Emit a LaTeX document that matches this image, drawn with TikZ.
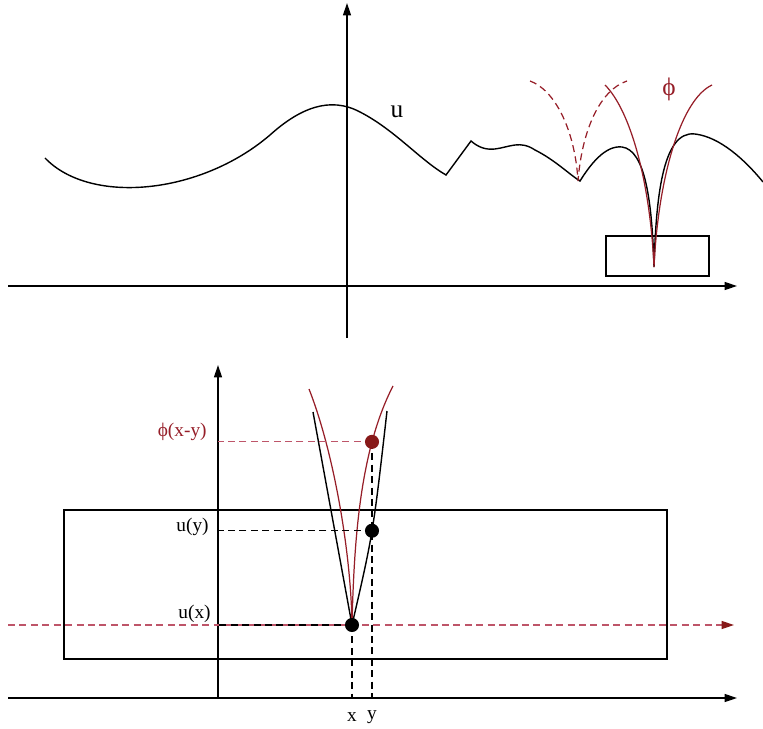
\documentclass[tikz,border=0pt]{standalone}
\usepackage{fontspec}
\setmainfont{Liberation Serif}
\usetikzlibrary{arrows.meta,intersections}
\definecolor{phired}{RGB}{150,30,40}
\definecolor{dashred}{RGB}{190,85,105}
\definecolor{dotred}{RGB}{135,25,25}
\begin{document}
\begin{tikzpicture}[x=0.02cm, y=-0.02cm, line width=0.7pt, axis/.style={-{Triangle[length=7pt,width=4.5pt]}}, curve/.style={line width=0.8pt}, phi/.style={phired, line width=0.7pt}, guide/.style={dash pattern=on 4pt off 2.5pt}, redguide/.style={guide, dashred}, dot/.style={circle, fill=black, inner sep=0pt, minimum size=8pt}, rdot/.style={dot, fill=dotred}, lbl/.style={inner sep=1pt, font=\fontsize{11}{13}\selectfont}]
\useasboundingbox (0,0) rectangle (763,729);
% upper panel
\coordinate (ax1) at (8,286);
\coordinate (ax1e) at (737,286);
\coordinate (ay1) at (347,338);
\coordinate (ay1e) at (347,3);
\draw[axis] (ax1) -- (ax1e);
\draw[axis] (ay1) -- (ay1e);
\draw (606,236) rectangle (709,276);
\draw[curve] (45,158) .. controls (90,205) and (200,195) .. (270,135) .. controls (300,108) and (330,96) .. (360,112) .. controls (395,130) and (420,160) .. (446,175) -- (471,141) .. controls (478,147) and (485,150) .. (495,149) .. controls (510,147) and (520,140) .. (535,150) .. controls (555,160) and (570,175) .. (580,181) .. controls (590,165) and (605,145) .. (622,147) .. controls (645,150) and (652,200) .. (654,267) .. controls (656,200) and (662,130) .. (695,134) .. controls (720,137) and (745,160) .. (763,182);
\draw[phi, guide] (530,81) .. controls (555,90) and (575,130) .. (578,181) .. controls (582,130) and (600,90) .. (627,81);
\draw[phi] (605,85) .. controls (630,110) and (650,180) .. (654,267) .. controls (658,180) and (680,100) .. (712,85);
\node[lbl, font=\Large] (ulbl) at (397,112) {u};
\node[lbl, font=\Large, text=phired] (philbl) at (669,89) {ϕ};
% lower panel
\coordinate (ax2) at (8,698);
\coordinate (ax2e) at (737,698);
\coordinate (ay2) at (218,698);
\coordinate (ay2e) at (218,365);
\coordinate (rl) at (8,625);
\coordinate (rle) at (734,625);
\coordinate (ux) at (352,625);
\draw[axis] (ax2) -- (ax2e);
\draw[axis] (ay2) -- (ay2e);
\draw (64,510) rectangle (667,659);
\draw[redguide, -{Triangle[length=7pt,width=4.5pt,color=dotred,fill=dotred]}] (rl) -- (rle);
\draw[curve] (313,412) -- (ux);
\draw[curve, name path=blkR] (ux) .. controls (373,534) .. (387,411);
\draw[phi] (ux) .. controls (351,550) and (333,450) .. (309,389);
\draw[phi, name path=redR] (ux) .. controls (354,540) and (360,450) .. (393,386);
\path[name path=vy] (372,380) -- (372,700);
\path[name intersections={of=vy and redR, by=pxy}];
\path[name intersections={of=vy and blkR, by=uyc}];
\draw[redguide] (pxy) -- (pxy -| ay2);
\draw[guide] (uyc) -- (uyc -| ay2);
\draw[guide] (ux) -- (ux -| ay2);
\draw[guide] (pxy) -- (pxy |- ax2);
\draw[guide] (ux) -- (ux |- ax2);
\node[rdot] (phixy) at (pxy) {};
\node[dot] (uy) at (uyc) {};
\node[dot] (uxd) at (ux) {};
\node[lbl, text=phired, anchor=east] (lphi) at (209,432) {ϕ(x-y)};
\node[lbl, anchor=east] (luy) at (211,527) {u(y)};
\node[lbl, anchor=east] (lux) at (213,614) {u(x)};
\node[lbl] (lx) at (352,717) {x};
\node[lbl] (ly) at (pxy |- 0,717) {y};
\end{tikzpicture}
\end{document}
